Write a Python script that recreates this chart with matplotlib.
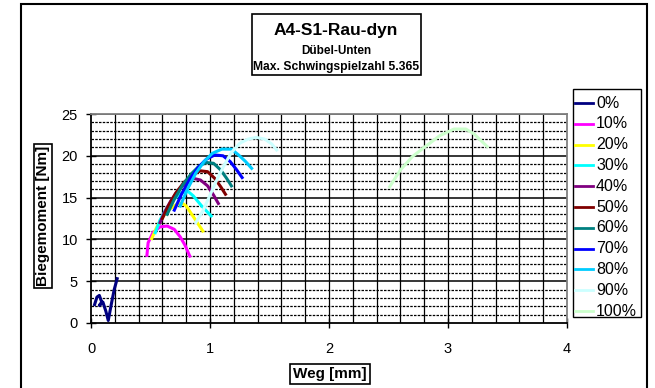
import numpy as np
import matplotlib
matplotlib.use('Agg')
import matplotlib.pyplot as plt
from matplotlib.patches import Rectangle
from matplotlib.lines import Line2D
from matplotlib.ticker import MultipleLocator

plt.rcParams['font.family'] = ['Liberation Sans', 'DejaVu Sans']

labels = ['0%', '10%', '20%', '30%', '40%', '50%', '60%', '70%', '80%', '90%', '100%']
colors = ['#000080', '#FF00FF', '#FFFF00', '#00FFFF', '#800080', '#800000',
          '#008080', '#0000FF', '#00CCFF', '#CCFFFF', '#CCFFCC']

# Weg [mm] / Biegemoment [Nm] je Laststufe
x00 = [0.03, 0.05, 0.07, 0.09, 0.07, 0.10, 0.125, 0.145, 0.17, 0.195, 0.22]
y00 = [2.2, 3.1, 3.3, 2.5, 2.1, 2.5, 1.4, 0.3, 2.2, 4.0, 5.3]
x10 = [0.47, 0.48, 0.52, 0.58, 0.64, 0.70, 0.75, 0.79, 0.83]
y10 = [8.1, 9.6, 10.8, 11.5, 11.6, 11.2, 10.3, 9.3, 8.0]
x20 = [0.51, 0.55, 0.60, 0.66, 0.72, 0.77, 0.80, 0.87, 0.94]
y20 = [10.1, 11.4, 12.7, 13.6, 14.2, 14.3, 14.0, 12.5, 11.0]
x30 = [0.54, 0.58, 0.63, 0.69, 0.75, 0.81, 0.86, 0.93, 1.01]
y30 = [10.8, 12.3, 13.6, 14.7, 15.5, 15.8, 15.2, 14.0, 12.8]
x40 = [0.58, 0.62, 0.67, 0.73, 0.79, 0.86, 0.92, 0.98, 1.03, 1.07]
y40 = [12.0, 13.3, 14.6, 15.8, 16.7, 17.3, 17.1, 16.4, 15.3, 14.3]
x50 = [0.60, 0.65, 0.71, 0.78, 0.85, 0.92, 0.98, 1.04, 1.09, 1.13]
y50 = [12.5, 14.0, 15.5, 16.8, 17.7, 18.2, 18.1, 17.3, 16.3, 15.4]
x60 = [0.64, 0.70, 0.77, 0.84, 0.91, 0.97, 1.03, 1.09, 1.14, 1.18]
y60 = [13.0, 14.8, 16.5, 17.8, 18.8, 19.2, 19.1, 18.3, 17.3, 16.4]
x70 = [0.70, 0.76, 0.83, 0.90, 0.97, 1.04, 1.11, 1.17, 1.22, 1.27]
y70 = [13.5, 15.4, 17.2, 18.6, 19.6, 20.1, 20.0, 19.3, 18.4, 17.4]
x80 = [0.75, 0.81, 0.88, 0.95, 1.02, 1.10, 1.18, 1.24, 1.30, 1.35]
y80 = [14.0, 16.0, 17.9, 19.3, 20.3, 20.8, 20.8, 20.1, 19.3, 18.5]
x90 = [0.88, 0.94, 1.00, 1.06, 1.12, 1.18, 1.25, 1.32, 1.39, 1.46, 1.52, 1.56]
y90 = [12.0, 13.4, 15.3, 17.2, 18.9, 20.4, 21.5, 22.0, 22.2, 22.0, 21.4, 20.7]
x100 = [2.51, 2.60, 2.70, 2.80, 2.93, 3.05, 3.15, 3.22, 3.33]
y100 = [16.3, 18.3, 19.9, 21.0, 22.4, 23.2, 23.2, 22.6, 21.1]

xs = [x00, x10, x20, x30, x40, x50, x60, x70, x80, x90, x100]
ys = [y00, y10, y20, y30, y40, y50, y60, y70, y80, y90, y100]

W, H = 655, 388
fig = plt.figure(figsize=(W / 100, H / 100), dpi=100)

def fx(px):
    return px / W

def fy(py):
    return 1 - py / H

# outer chart frame
fig.patches.append(Rectangle((fx(21), -0.02), (647 - 21) / W, 1.02 - 4 / H,
                             transform=fig.transFigure, fill=False,
                             edgecolor='black', lw=1.5))

ax = fig.add_axes([fx(91), fy(323), (567 - 91) / W, (323 - 114) / H])
ax.set_xlim(0, 4)
ax.set_ylim(0, 25)

# grid: vertical every 0.2 solid, horizontal every 1 dashed, every 5 solid
for gx in np.arange(0.2, 4.0, 0.2):
    ax.axvline(gx, color='black', lw=0.9, zorder=1)
for gy in range(1, 26):
    if gy % 5 == 0:
        ax.axhline(gy, color='black', lw=1.1, zorder=1)
    else:
        ax.axhline(gy, color='black', lw=0.9, ls=(0, (2, 1)), zorder=1)

for x, y, c in zip(xs, ys, colors):
    ax.plot(x, y, color=c, lw=2.2, zorder=3)

ax.xaxis.set_major_locator(MultipleLocator(1))
ax.yaxis.set_major_locator(MultipleLocator(5))
ax.tick_params(axis='both', direction='inout', length=7, width=1, labelsize=10.5)
ax.tick_params(axis='x', pad=10)
ax.tick_params(axis='y', pad=6)
for s in ['left', 'bottom']:
    ax.spines[s].set_color('black')
    ax.spines[s].set_linewidth(1.3)
for s in ['right', 'top']:
    ax.spines[s].set_color('#808080')
    ax.spines[s].set_linewidth(1.3)

# legend drawn by hand, Excel style
fig.patches.append(Rectangle((fx(573), fy(317)), (641 - 573) / W, (317 - 89) / H,
                             transform=fig.transFigure, facecolor='white',
                             edgecolor='black', lw=1.0, zorder=5))
for i, (lab, c) in enumerate(zip(labels, colors)):
    ly = 103 + 20.8 * i
    fig.lines.append(Line2D([fx(575), fx(593)], [fy(ly), fy(ly)], color=c, lw=2,
                            transform=fig.transFigure, zorder=6))
    fig.text(fx(596), fy(ly), lab, ha='left', va='center', fontsize=11.5, zorder=6)

# title box
fig.patches.append(Rectangle((fx(252), fy(75)), (421 - 252) / W, (75 - 14) / H,
                             transform=fig.transFigure, fill=False,
                             edgecolor='black', lw=1.2))
fig.text(fx(336), fy(31), 'A4-S1-Rau-dyn', ha='center', va='center',
         fontsize=12.5, fontweight='bold')
fig.text(fx(336), fy(51), 'Dübel-Unten', ha='center', va='center',
         fontsize=8.5, fontweight='bold')
fig.text(fx(336), fy(67), 'Max. Schwingspielzahl 5.365', ha='center', va='center',
         fontsize=8.7, fontweight='bold')

fig.text(fx(43), fy(216), 'Biegemoment [Nm]', rotation=90, ha='center', va='center',
         fontsize=11, fontweight='bold',
         bbox=dict(boxstyle='square,pad=0.12', fc='white', ec='black', lw=1.2))
fig.text(fx(330), fy(374), 'Weg [mm]', ha='center', va='center',
         fontsize=11, fontweight='bold',
         bbox=dict(boxstyle='square,pad=0.2', fc='white', ec='black', lw=1.2))

fig.savefig('out.png', dpi=100)
